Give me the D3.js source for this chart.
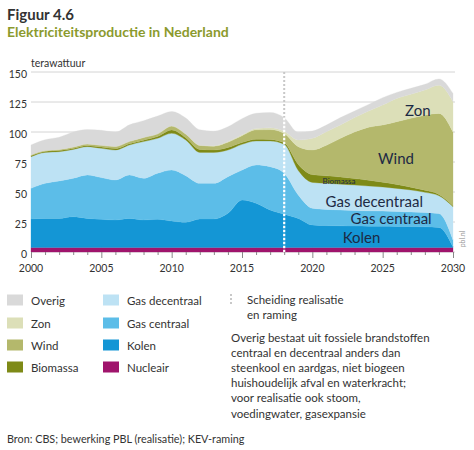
<!DOCTYPE html>
<html><head><meta charset="utf-8">
<script src="https://cdn.jsdelivr.net/npm/d3@7"></script>
<style>
html,body{margin:0;padding:0;background:#fff;}
text{font-family:Lato,"Open Sans",sans-serif;}
</style></head>
<body>
<svg id="chart" width="474" height="450"></svg>
<script>
// ---- data (TWh) ----
const years = [2000,2001,2002,2003,2004,2005,2006,2007,2008,2009,2010,2011,2012,2013,2014,2015,2016,2017,2018,2019,2020,2021,2022,2023,2024,2025,2026,2027,2028,2029,2030];
const nucleair      = [3.8,3.8,3.8,3.8,3.8,3.8,3.8,3.8,3.8,3.8,3.8,3.8,3.8,3.8,3.8,3.8,3.8,3.8,3.8,3.8,3.8,3.8,3.8,3.8,3.8,3.8,3.8,3.8,3.8,3.8,3.8];
const kolen         = [23.7,24.2,24.2,25.6,24.2,23.4,22.9,24.2,22.9,23.4,22.0,20.9,23.7,23.7,28.4,39.5,36.8,31.2,27.6,24.2,18.7,18.2,18.0,17.8,17.7,17.6,17.5,17.4,17.2,16.7,0.5];
const gasCentraal   = [25.6,29.2,31.2,32.0,36.2,34.8,33.3,36.2,34.7,38.4,42.5,38.9,29.7,29.7,30.6,25.0,31.9,36.1,34.2,19.5,13.9,13.5,13.2,13.0,12.8,12.7,12.5,12.2,12.0,11.5,5.7];
const gasDecentraal = [26.3,25.8,24.4,24.1,23.6,24.4,25.0,25.0,30.6,29.1,30.6,29.7,25.8,25.8,22.2,21.4,20.0,21.4,24.1,20.5,21.6,21.7,21.5,21.2,20.7,20.1,19.2,18.3,16.7,14.9,27.8];
const biomassa      = [0.8,0.8,0.9,0.8,0.8,1.0,1.2,1.0,1.2,1.5,2.8,2.0,2.5,2.0,2.0,1.5,1.5,1.3,1.3,5.0,6.5,6.3,6.0,5.4,4.8,4.0,3.3,2.3,1.8,1.1,0.8];
const wind          = [0.7,0.7,0.9,1.2,1.4,1.5,1.8,2.0,2.3,2.3,3.2,3.0,3.3,3.2,4.5,5.7,7.8,8.2,7.7,14.8,20.5,25.5,32.2,38.8,44.2,47.6,52.3,57.4,62.5,67.5,61.4];
const zon           = [0,0,0,0,0,0,0,0,0,0,0,0,0.2,0.3,0.5,0.8,1.2,1.5,2.0,5.5,9.7,11.3,11.1,12.0,13.5,16.7,19.4,20.0,21.0,23.5,25.3];
const overig        = [8.3,9.1,10.2,12.5,12.0,12.5,11.9,13.8,13.9,14.8,12.2,13.4,12.8,12.2,12.4,13.4,12.6,12.8,11.2,6.4,6.1,5.5,6.2,5.5,5.5,6.1,5.0,5.0,4.7,5.2,6.7];

const seriesKeys   = ["Nucleair","Kolen","Gas centraal","Gas decentraal","Biomassa","Wind","Zon","Overig"];
const seriesValues = [nucleair,kolen,gasCentraal,gasDecentraal,biomassa,wind,zon,overig];
const seriesColors = ["#a0146c","#1496d5","#5cbde8","#bde2f4","#7e8a17","#b4b86c","#dcdfb8","#d9d9d9"];
const yTicks = [0,25,50,75,100,125,150];
const xTickLabels = ["2000","2005","2010","2015","2020","2025","2030"];
const splitYear = 2018;

const legendCol1 = ["Overig","Zon","Wind","Biomassa"];
const legendCol2 = ["Gas decentraal","Gas centraal","Kolen","Nucleair"];
const noteLines = ["Overig bestaat uit fossiele brandstoffen","centraal en decentraal anders dan","steenkool en aardgas, niet biogeen","huishoudelijk afval en waterkracht;","voor realisatie ook stoom,","voedingwater, gasexpansie"];

// in-chart labels: [text, year, value, size]
const areaLabels = [["Zon",2027.5,118.3,15],["Wind",2025.95,78.3,15],["Biomassa",2021.9,59.2,8],["Gas decentraal",2024.4,42.5,15],["Gas centraal",2025.6,28.3,15],["Kolen",2023.5,12.5,15]];

// ---- build table ----
const table = years.map((yr,i)=>{
  const row = {year:yr};
  seriesKeys.forEach((k,j)=>row[k]=seriesValues[j][i]);
  return row;
});
const colorOf = {}; seriesKeys.forEach((k,j)=>colorOf[k]=seriesColors[j]);

const svg = d3.select("#chart");
svg.append("rect").attr("width",474).attr("height",450).attr("fill","#fff");

const x = d3.scaleLinear().domain([2000,2030]).range([31,453]);
const y = d3.scaleLinear().domain([0,150]).range([252,72]);

// titles
svg.append("text").attr("x",7).attr("y",20).attr("font-size",15).attr("font-weight",700).attr("fill","#333").text("Figuur 4.6");
svg.append("text").attr("x",7).attr("y",37).attr("font-size",14).attr("font-weight",700).attr("fill","#8b9a2d").text("Elektriciteitsproductie in Nederland");
svg.append("text").attr("x",31).attr("y",67).attr("font-size",10.5).attr("fill","#333").text("terawattuur");

// gridlines
svg.append("g").selectAll("line").data(yTicks).join("line")
  .attr("x1",31).attr("x2",455).attr("y1",d=>y(d)).attr("y2",d=>y(d))
  .attr("stroke","#d4d4d4").attr("stroke-width",1);

// y tick labels
svg.append("g").selectAll("text").data(yTicks).join("text")
  .attr("x",27).attr("y",d=>y(d)+2).attr("text-anchor","end").attr("dominant-baseline","central")
  .attr("font-size",10.5).attr("fill","#333").text(d=>d);

// stacked areas
const stack = d3.stack().keys(seriesKeys);
const stacked = stack(table);
const area = d3.area().x(d=>x(d.data.year)).y0(d=>y(d[0])).y1(d=>y(d[1])).curve(d3.curveMonotoneX);
svg.append("g").selectAll("path").data(stacked).join("path")
  .attr("d",area).attr("fill",d=>colorOf[d.key]).attr("stroke",d=>colorOf[d.key]).attr("stroke-width",0.3);

// x axis ticks
const xAxis = d3.axisBottom(x).tickValues(years).tickSize(3).tickFormat("");
const gx = svg.append("g").attr("transform","translate(0,252)").call(xAxis);
gx.select(".domain").remove();
gx.selectAll(".tick line").attr("stroke","#888").attr("y2",d=>d%5===0?6:3);
svg.append("g").selectAll("text").data(xTickLabels).join("text")
  .attr("x",d=>x(+d)).attr("y",268).attr("text-anchor","middle").attr("dominant-baseline","central")
  .attr("font-size",10.5).attr("fill","#333").text(d=>d);

// split line
const splitIdx = years.indexOf(splitYear);
const totalSplit = d3.sum(seriesValues,s=>s[splitIdx]);
svg.append("line").attr("x1",x(splitYear)).attr("x2",x(splitYear)).attr("y1",y(150)).attr("y2",y(totalSplit))
  .attr("stroke","#c8c8c8").attr("stroke-width",2).attr("stroke-dasharray","2,2");
svg.append("line").attr("x1",x(splitYear)).attr("x2",x(splitYear)).attr("y1",y(totalSplit)).attr("y2",y(0))
  .attr("stroke","#fff").attr("stroke-width",2.2).attr("stroke-dasharray","2.5,1.5");

// area labels
svg.append("g").selectAll("text").data(areaLabels).join("text")
  .attr("x",d=>x(d[1])).attr("y",d=>y(d[2])).attr("text-anchor","middle").attr("dominant-baseline","central")
  .attr("font-size",d=>d[3]).attr("fill","#1d2a44").text(d=>d[0]);

// pbl.nl
svg.append("text").attr("transform","translate(465,239) rotate(-90)").attr("text-anchor","middle")
  .attr("font-size",7).attr("fill","#999").text("pbl.nl");

// legend
const rowY = [300,323,345,367];
legendCol1.forEach((k,i)=>{
  svg.append("rect").attr("x",7).attr("y",rowY[i]-5.5).attr("width",16).attr("height",11).attr("fill",colorOf[k]);
  svg.append("text").attr("x",31).attr("y",rowY[i]).attr("dominant-baseline","central").attr("font-size",11.5).attr("fill","#333").text(k);
});
legendCol2.forEach((k,i)=>{
  svg.append("rect").attr("x",103).attr("y",rowY[i]-5.5).attr("width",16).attr("height",11).attr("fill",colorOf[k]);
  svg.append("text").attr("x",127).attr("y",rowY[i]).attr("dominant-baseline","central").attr("font-size",11.5).attr("fill","#333").text(k);
});
svg.append("line").attr("x1",231).attr("x2",231).attr("y1",294).attr("y2",306)
  .attr("stroke","#c8c8c8").attr("stroke-width",2).attr("stroke-dasharray","2,2");
svg.append("text").attr("x",247).attr("y",299).attr("dominant-baseline","central").attr("font-size",11.5).attr("fill","#333").text("Scheiding realisatie");
svg.append("text").attr("x",247).attr("y",314).attr("dominant-baseline","central").attr("font-size",11.5).attr("fill","#333").text("en raming");
noteLines.forEach((t,i)=>{
  svg.append("text").attr("x",231).attr("y",337+i*15.2).attr("dominant-baseline","central").attr("font-size",11.5).attr("fill","#333").text(t);
});
svg.append("text").attr("x",7).attr("y",438).attr("dominant-baseline","central").attr("font-size",10.8).attr("fill","#333").text("Bron: CBS; bewerking PBL (realisatie); KEV-raming");
</script>
</body></html>
